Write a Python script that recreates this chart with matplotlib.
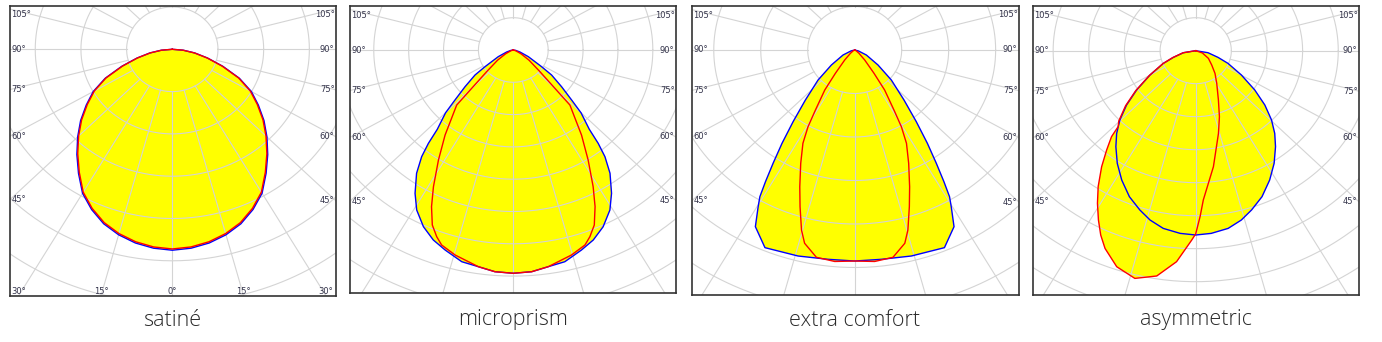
import numpy as np
import matplotlib.pyplot as plt

W, H = 1382, 342

titles = ["satiné", "microprism", "extra comfort", "asymmetric"]

# photometric curves: gamma in degrees (0 = nadir, negative = left half),
# intensity in units of the grid ring spacing
sat_gamma = [0, 5, 10, 15, 20, 25, 30, 35, 40, 45, 50, 55, 60, 65, 70, 75, 80, 85, 90]
sat_blue = [4.75, 4.72, 4.65, 4.54, 4.39, 4.18, 3.93, 3.58, 3.25, 2.93, 2.62, 2.3, 2.0,
            1.62, 1.18, 0.8, 0.5, 0.24, 0.0]
sat_red = [4.72, 4.69, 4.62, 4.51, 4.36, 4.15, 3.9, 3.55, 3.22, 2.9, 2.59, 2.27, 1.97,
           1.6, 1.16, 0.79, 0.49, 0.23, 0.0]

mic_blue_gamma = [0, 4.4, 8.5, 12.7, 17.5, 21.3, 25.2, 29.2, 32.4, 36.0, 38.5, 40.1, 41.6,
                  44.95, 47.2, 50.6, 54.8, 57.5, 64.4, 72, 80, 90]
mic_blue = [6.913, 6.884, 6.783, 6.719, 6.494, 6.313, 6.048, 5.676, 5.256, 4.717, 4.22,
            3.779, 3.28, 2.75, 2.278, 1.791, 1.343, 0.961, 0.477, 0.2, 0.07, 0.0]
mic_red_gamma = [0, 4.4, 8.5, 14.7, 18.8, 20.8, 23.2, 25.8, 28.4, 32.2, 36.6, 43.6, 48.7,
                 55, 62, 72, 90]
mic_red = [6.913, 6.884, 6.783, 6.563, 6.377, 6.183, 5.894, 5.386, 4.813, 4.027, 3.28,
           2.353, 1.017, 0.55, 0.25, 0.07, 0.0]

ext_blue_gamma = [0, 6.7, 14.3, 22.8, 27.5, 29.7, 30.9, 32.1, 33.7, 35.8, 38.5, 42.4,
                  48.5, 55.2, 65.1, 75, 90]
ext_blue = [4.851, 4.845, 4.887, 4.929, 4.579, 4.148, 3.931, 3.574, 3.132, 2.645, 2.107,
            1.556, 1.041, 0.604, 0.274, 0.08, 0.0]
ext_red_gamma = [0, 5, 9.7, 13.5, 15.3, 17.9, 20.4, 23.8, 27.2, 29.4, 31.2, 34.7, 37.5,
                 42.8, 50, 60, 90]
ext_red = [4.851, 4.88, 4.835, 4.569, 4.291, 3.785, 3.354, 2.847, 2.411, 2.023, 1.613,
           1.119, 0.675, 0.313, 0.12, 0.04, 0.0]

asy_blue_gamma = [0, 4.5, 9.6, 14.0, 18.0, 22.8, 27.9, 32.8, 37.6, 41.5, 45.4, 49.7, 54.3,
                  60.1, 67, 72.1, 80, 90]
asy_blue = [5.585, 5.553, 5.461, 5.289, 5.074, 4.8, 4.435, 4.062, 3.671, 3.347, 2.988,
            2.543, 2.041, 1.48, 0.985, 0.659, 0.35, 0.0]
asy_red_gamma = [-90, -80, -72, -67, -60, -54.3, -49.7, -45.4, -43.4, -42.2, -39.7, -36.9,
                 -33.6, -30.8, -28.0, -25.5, -23.0, -18.7, -13.9, -9.1, -4.8, -1.1, 0,
                 1.4, 2.7, 8.05, 14.3, 18.4, 23.1, 30.8, 38.2, 46, 56.9, 70, 90]
asy_red = [0.0, 0.36, 0.68, 1.0, 1.5, 2.07, 2.58, 3.03, 3.167, 3.516, 3.912, 4.396,
           4.945, 5.384, 5.813, 6.19, 6.51, 6.911, 7.108, 6.914, 6.416, 5.737, 5.55,
           5.03, 4.529, 3.55, 2.586, 2.108, 1.624, 1.153, 0.876, 0.625, 0.426, 0.2, 0.0]


def mirror(g, v):
    g = np.asarray(g, float)
    v = np.asarray(v, float)
    return np.concatenate([-g[::-1], g[1:]]), np.concatenate([v[::-1], v[1:]])


def xy(g, v):
    g = np.radians(g)
    v = np.asarray(v, float)
    return v * np.sin(g), -v * np.cos(g)


panels = [
    (mirror(sat_gamma, sat_blue), mirror(sat_gamma, sat_red)),
    (mirror(mic_blue_gamma, mic_blue), mirror(mic_red_gamma, mic_red)),
    (mirror(ext_blue_gamma, ext_blue), mirror(ext_red_gamma, ext_red)),
    (mirror(asy_blue_gamma, asy_blue), (np.array(asy_red_gamma), np.array(asy_red))),
]

# panel frames in pixels
box_left = [10, 350, 692, 1033]
box_right = [336, 676, 1019, 1359]
box_top = [6, 6, 6, 6]
box_bottom = [296, 293, 295, 295]
center_x = [172.3, 513.3, 854.7, 1195.7]
center_y = [49.3, 50, 50, 50.7]
ring_px = [42.3, 32.3, 43.5, 33]
stretch = 1.08

grid_col = '#d4d4d4'
lab_col = '#33334a'

fig = plt.figure(figsize=(W / 100, H / 100), dpi=100)

for i in range(4):
    l, r, t, b = box_left[i], box_right[i], box_top[i], box_bottom[i]
    cx, cy = center_x[i], center_y[i]
    sy = ring_px[i]
    sx = sy * stretch
    ax = fig.add_axes([l / W, 1 - b / H, (r - l) / W, (b - t) / H])
    xl, xr = (l - cx) / sx, (r - cx) / sx
    yb, yt = (cy - b) / sy, (cy - t) / sy
    ax.set_xlim(xl, xr)
    ax.set_ylim(yb, yt)
    ax.set_xticks([])
    ax.set_yticks([])
    for s in ax.spines.values():
        s.set_color('#333333')
        s.set_linewidth(1.2)

    blue, red = panels[i]
    bx, by = xy(*blue)
    rx, ry = xy(*red)
    ax.fill(bx, by, color='#ffff00', lw=0, zorder=1)
    ax.fill(rx, ry, color='#ffff00', lw=0, zorder=1)

    # grid
    tt = np.linspace(0, 2 * np.pi, 500)
    for k in range(1, 14):
        ax.plot(k * np.cos(tt), k * np.sin(tt), color=grid_col, lw=0.8, zorder=2)
    for g in range(0, 360, 15):
        gr = np.radians(g)
        ax.plot([np.sin(gr), 14 * np.sin(gr)], [-np.cos(gr), -14 * np.cos(gr)],
                color=grid_col, lw=0.8, zorder=2)

    ax.plot(bx, by, color='#0000ff', lw=1.0, zorder=3)
    ax.plot(rx, ry, color='#ff0000', lw=1.0, zorder=3)

    # side labels
    for g in [45, 60, 75, 90, 105]:
        gr = np.radians(g)
        dy = -4 if g == 105 else 0
        yl = xl / np.tan(gr)
        ax.annotate(f"{g}°", (xl, yl), xytext=(1, dy), textcoords='offset points',
                    ha='left', va='center', fontsize=6, color=lab_col, zorder=4)
        yr2 = -xr / np.tan(gr)
        ax.annotate(f"{g}°", (xr, yr2), xytext=(-1, dy), textcoords='offset points',
                    ha='right', va='center', fontsize=6, color=lab_col, zorder=4)
    if i == 0:
        for g in [-30, -15, 0, 15, 30]:
            xg = -yb * np.tan(np.radians(g))
            ax.text(xg, yb, f"{abs(g)}°", ha='center', va='bottom', fontsize=6,
                    color=lab_col, zorder=4, clip_on=True)

    fig.text(cx / W, 1 - 320 / H, titles[i], ha='center', va='center',
             fontsize=15.5, color='#2a2a2a', family='Open Sans', fontweight='light')

fig.savefig('out.png', dpi=100)
